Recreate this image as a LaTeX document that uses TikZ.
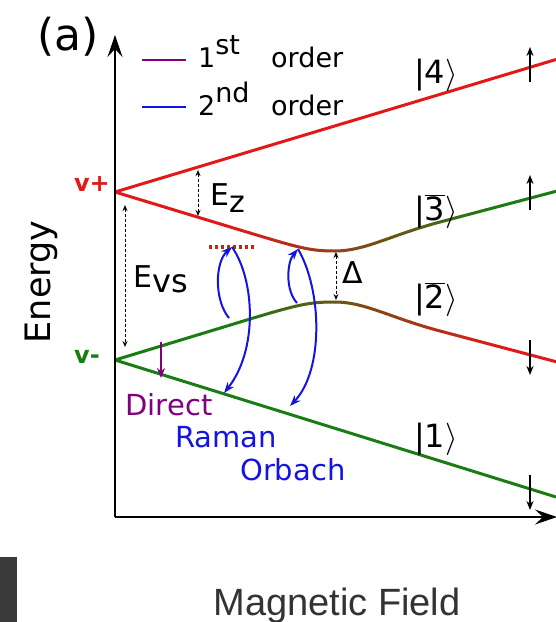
\documentclass[tikz,border=0pt]{standalone}
\usepackage{fontspec}
\setmainfont{DejaVu Sans}
\newfontfamily\libsans{Liberation Sans}
\usetikzlibrary{arrows.meta}
\definecolor{lred}{RGB}{225,25,25}
\definecolor{lgreen}{RGB}{25,125,20}
\definecolor{lblue}{RGB}{20,20,225}
\definecolor{lpurple}{RGB}{128,0,128}
\definecolor{vred}{RGB}{185,45,20}
\definecolor{fieldgray}{RGB}{51,51,51}
\definecolor{blockgray}{RGB}{58,58,58}
\def\upperpath{(115,192) -- (250,233) .. controls (300,248) and (310,251) .. (335,251) .. controls (365,251) and (390,235.3) .. (440,222) -- (556,191.3)}
\def\lowerpath{(115,360) -- (250,319) .. controls (300,304) and (310,302) .. (335,302) .. controls (365,302) and (390,317.7) .. (440,331) -- (556,361.7)}
\newcommand\ketend{\scalebox{1.3}{$\rangle$}}
\begin{document}
\begin{tikzpicture}[x=1pt,y=-1pt,
  level/.style={line width=3pt},
  axisline/.style={line width=1.6pt,-{Stealth[length=22pt,width=15pt,inset=8pt]}},
  spin/.style={line width=1.5pt,-{Stealth[length=9pt,width=7pt]}},
  gapline/.style={line width=1pt,dash pattern=on 3pt off 2pt,{Stealth[length=6pt,width=5pt]}-{Stealth[length=6pt,width=5pt]}},
  proc/.style={line width=2pt,lblue,-{Stealth[length=11pt,width=8pt]}},
  lbl/.style={inner sep=0pt,font=\fontsize{30}{36}\selectfont},
  ket/.style={inner sep=0pt,anchor=base,font=\fontsize{32}{38}\selectfont},
  legtext/.style={inner sep=0pt,anchor=base west,font=\fontsize{27}{32}\selectfont},
  vlab/.style={inner sep=0pt,anchor=base east,font=\fontsize{24}{28}\selectfont\bfseries}]
\useasboundingbox (0,0) rectangle (555,622);
% corner block
\fill[blockgray] (0,557) rectangle (17,622);
% coordinates
\coordinate (O) at (115,517);
\coordinate (ytip) at (115,35);
\coordinate (xtip) at (557,517);
\coordinate (vp) at (115,192);
\coordinate (vm) at (115,360);
\coordinate (l4end) at (556,59.5);
\coordinate (l1end) at (556,497);
% straight levels
\draw[level,lred] (vp) -- (l4end);
\draw[level,lgreen] (vm) -- (l1end);
% graded levels
\foreach \xs in {110,115,...,555} {
  \pgfmathtruncatemacro\tu{max(0,min(100,(500-(\xs+2.5))/270*100))}
  \begin{scope}
    \clip (\xs,0) rectangle (\xs+5.4,622);
    \draw[level,color=lred!\tu!lgreen] \upperpath;
    \draw[level,color=lgreen!\tu!lred] \lowerpath;
  \end{scope}
}
% axes
\draw[axisline] (O) -- (ytip);
\draw[axisline] (O) -- (xtip);
% virtual level
\coordinate (virtA) at (209,247);
\coordinate (virtB) at (254,247);
\draw[vred,line width=4pt,dash pattern=on 3pt off 3pt] (virtA) -- (virtB);
% spin arrows
\coordinate (s4a) at (530,82);  \coordinate (s4b) at (530,47);
\coordinate (s3a) at (530,210); \coordinate (s3b) at (530,175);
\coordinate (s2a) at (530,340); \coordinate (s2b) at (530,375);
\coordinate (s1a) at (530,475); \coordinate (s1b) at (530,510);
\draw[spin] (s4a) -- (s4b);
\draw[spin] (s3a) -- (s3b);
\draw[spin] (s2a) -- (s2b);
\draw[spin] (s1a) -- (s1b);
% gap arrows
\coordinate (ezA) at (198,170); \coordinate (ezB) at (198,216);
\coordinate (evA) at (125,205); \coordinate (evB) at (125,347);
\coordinate (dlA) at (336,252); \coordinate (dlB) at (336,300);
\draw[gapline] (ezA) -- (ezB);
\draw[gapline] (evA) -- (evB);
\draw[gapline] (dlA) -- (dlB);
% direct process
\coordinate (d1) at (161,342); \coordinate (d2) at (161,378);
\draw[line width=1.6pt,lpurple,-{Stealth[length=10pt,width=8pt]}] (d1) -- (d2);
% Raman process
\coordinate (ra1) at (229,318); \coordinate (rv) at (232,247); \coordinate (ra2) at (224,393);
\draw[proc] (ra1) .. controls (214,300) and (215,262) .. (rv);
\draw[proc] (rv) .. controls (255,280) and (258,350) .. (ra2);
% Orbach process
\coordinate (ob1) at (297,303); \coordinate (ov) at (298,249); \coordinate (ob2) at (290,406);
\draw[proc] (ob1) .. controls (285,290) and (287,262) .. (ov);
\draw[proc] (ov) .. controls (322,290) and (324,370) .. (ob2);
% legend
\coordinate (lg1a) at (142,60); \coordinate (lg1b) at (186,60);
\coordinate (lg2a) at (142,107); \coordinate (lg2b) at (186,107);
\draw[lpurple,line width=1.6pt] (lg1a) -- (lg1b);
\draw[lblue,line width=1.6pt] (lg2a) -- (lg2b);
\node[legtext] (leg1) at (198,67) {\makebox[73pt][l]{1\raisebox{13pt}{st}}order};
\node[legtext] (leg2) at (198,115) {\makebox[73pt][l]{2\raisebox{13pt}{nd}}order};
% labels
\node[inner sep=0pt,anchor=base,font=\fontsize{44}{50}\selectfont] (panel) at (68,50) {(a)};
\node[inner sep=0pt,rotate=90,font=\fontsize{35}{40}\selectfont] (energy) at (41,282) {Energy};
\node[inner sep=0pt,anchor=base,font=\libsans\fontsize{38}{44}\selectfont,text=fieldgray] (field) at (337,615) {Magnetic Field};
\node[vlab,text=lred] (vplus) at (110,191) {v+};
\node[vlab,text=lgreen] (vminus) at (100,363) {v-};
\node[lbl,anchor=base west] (ez) at (210,205) {E\raisebox{-7pt}{z}};
\node[lbl,anchor=base west] (evs) at (133,287) {E\raisebox{-5pt}{\fontsize{32}{38}\selectfont vs}};
\node[lbl,anchor=base west] (delta) at (342,283) {Δ};
\node[ket] (k4) at (436,83) {|4\ketend};
\node[ket] (k3) at (436,220) {|$\overline{\hbox{3}}$\ketend};
\node[ket] (k2) at (436,308) {|$\overline{\hbox{2}}$\ketend};
\node[ket] (k1) at (436,447) {|1\ketend};
\node[inner sep=0pt,anchor=base,font=\fontsize{29}{34}\selectfont,text=lpurple] (direct) at (169,415) {Direct};
\node[inner sep=0pt,anchor=base west,font=\fontsize{29}{34}\selectfont,text=lblue] (raman) at (175,447) {Raman};
\node[inner sep=0pt,anchor=base west,font=\fontsize{29}{34}\selectfont,text=lblue] (orbach) at (240,480) {Orbach};
\end{tikzpicture}
\end{document}
